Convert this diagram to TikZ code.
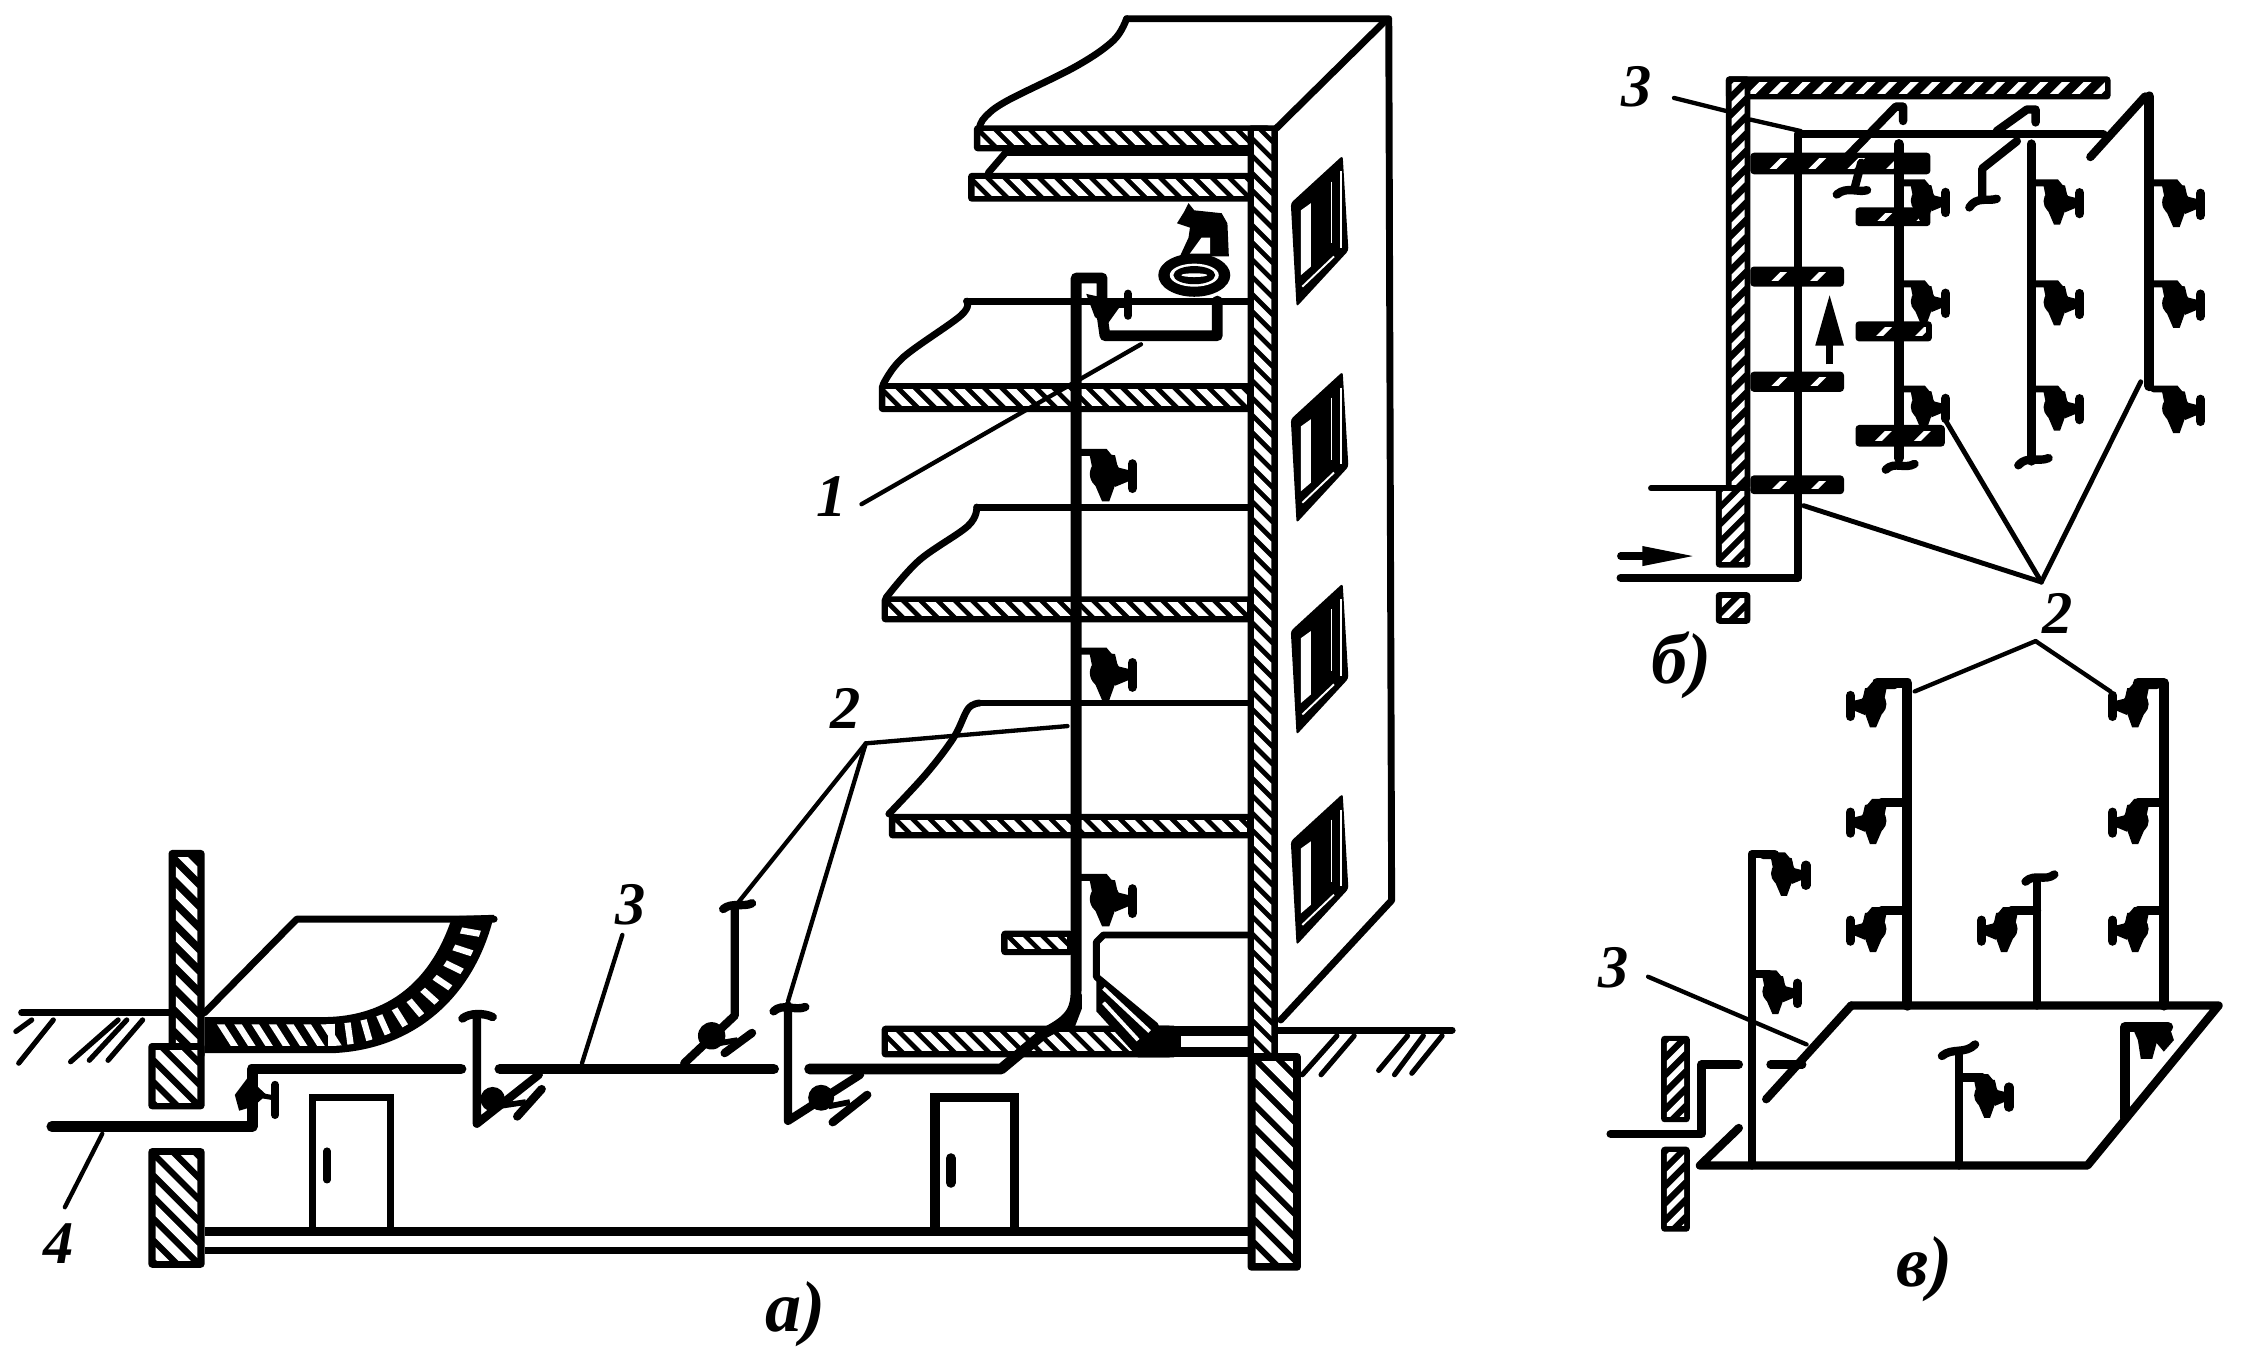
\documentclass[tikz,border=0pt]{standalone}
\usepackage{fontspec}
\newfontfamily\labfont{Liberation Serif}
\tikzset{
 heavy/.style={line width=4.8,line join=round,line cap=round},
 pipe/.style={line width=7.5,line join=round,line cap=round},
 pipeb/.style={line width=5.8,line join=round,line cap=round},
 leader/.style={line width=3,line cap=round},
 lbl/.style={font=\labfont\bfseries\itshape\fontsize{42}{42}\selectfont,inner sep=0pt},
 capt/.style={font=\labfont\bfseries\itshape\fontsize{50}{50}\selectfont,inner sep=0pt}
}
% x1 y1 x2 y2 spacing dir stripewidth border
\newcommand{\hatchrect}[8]{%
 \fill[black,rounded corners=2.5] (#1,#2) rectangle (#3,#4);
 \begin{scope}
 \clip (#1+#8,#2+#8) rectangle (#3-#8,#4-#8);
 \pgfmathsetmacro\hatchH{#4-#2}
 \pgfmathtruncatemacro\hatchN{(#3-#1+\hatchH)/#5}
 \foreach \k in {0,...,\hatchN}{
  \pgfmathsetmacro\hatchX{#1-\hatchH+\k*#5}
  \ifnum#6=1
   \draw[white,line width=#7] (\hatchX,#2) -- (\hatchX+\hatchH,#4);
  \else
   \draw[white,line width=#7] (\hatchX+\hatchH,#2) -- (\hatchX,#4);
  \fi
 }
 \end{scope}
}
\newcommand{\slabrect}[4]{\hatchrect{#1}{#2}{#3}{#4}{12}{1}{5}{4.5}}
\newcommand{\sparserect}[4]{\hatchrect{#1}{#2}{#3}{#4}{27}{0}{3.4}{4.2}}
% x y xsign scale
\newcommand{\vlv}[4]{%
 \begin{scope}[shift={(#1,#2)},xscale=#3*#4,yscale=#4]
  \draw[line width=4.8,line cap=round] (0,0) -- (17,0) -- (22,6);
  \fill[black] (17,15) circle (10.5);
  \fill[black] (9,20) -- (15,34) -- (20,34) -- (25,20) -- cycle;
  \fill[black] (6,0) -- (24,2) -- (27,15) -- (8,10) -- cycle;
  \fill[black] (24,10) -- (36,13) -- (36,19) -- (24,24) -- cycle;
  \draw[line width=6.5,line cap=round] (36,8) -- (36,25);
 \end{scope}
}
\newcommand{\winpane}[1]{%
 \begin{scope}[shift={(896,#1)}]
  \fill[black,rounded corners=2] (0,0) -- (36,-33) -- (40,33) -- (4,72) -- cycle;
  \fill[white] (7,5) -- (14,0) -- (14,44) -- (7,50) -- cycle;
  \draw[white,line width=1.6] (35,-22) -- (35,31);
  \draw[white,line width=1.3] (8,58) -- (30,37);
  \draw[white,line width=.8] (28,-15) -- (28,28);
 \end{scope}
}
\begin{document}
\begin{tikzpicture}[x=1pt,y=-1pt]
\useasboundingbox (0,0) rectangle (1566,947);
\fill[white] (0,0) rectangle (1566,947);

% ===== a) building =====
\draw[heavy] (782,13) -- (964,13) -- (966,625) -- (889,708);
\draw[heavy] (961,15) -- (886,89);
\draw[heavy] plot[smooth,tension=.6] coordinates {(782,13) (773,28) (747,46) (699,70) (684,81) (680,88)};
\draw[heavy] (698,106) -- (686,120);
\draw[heavy] (698,106) -- (868,106);
% plates
\draw[heavy] (866,209) -- (671,209);
\draw[heavy] plot[smooth,tension=.6] coordinates {(671,209) (667,219) (627,248) (613,267)};
\draw[heavy] (866,352) -- (678,352);
\draw[heavy] plot[smooth,tension=.6] coordinates {(678,352) (672,365) (638,389) (615,415)};
\draw[heavy] (866,488) -- (680,488);
\draw[heavy] plot[smooth,tension=.6] coordinates {(680,488) (672,492) (662,512) (643,537) (617,565)};
\draw[heavy] (866,649) -- (766,649) -- (761,654) -- (761,678) -- (802,712);
% slabs
\slabrect{676}{87}{882}{105}
\slabrect{672}{120}{874}{140}
\slabrect{610}{266}{870}{286}
\slabrect{612}{414}{870}{432}
\slabrect{617}{565}{870}{582}
\slabrect{695}{646}{745}{663}
\slabrect{612}{712}{814}{734}
\fill[black] (812,712) rectangle (870,734);
\fill[white] (820,719) rectangle (866,727);
\fill[black] (761,676) -- (802,712) -- (815,712) -- (815,734) -- (790,734) -- (761,702) -- cycle;
\draw[white,line width=2.6] (766,686) -- (798,716);
\draw[white,line width=2.6] (766,696) -- (790,722);
% walls
\hatchrect{866}{87}{887}{735}{12}{1}{5}{4.5}
\hatchrect{866}{731}{903}{882}{16}{1}{7}{5.5}
% windows
\winpane{141}
\winpane{291}
\winpane{438}
\winpane{584}
% ground
\draw[heavy] (887,715) -- (1008,715);
\draw[heavy] (15,703) -- (117,703);
\foreach \a/\b/\c/\d in {904/746/928/719,917/746/940/719,957/743/977/719,968/746/988/719,980/745/1001/719,
  11/716/22/708,13/738/37/708,49/737/82/708,62/736/88/708,75/736/99/708}
  {\draw[heavy,line width=3.6] (\a,\b) -- (\c,\d);}
% curved slab
\fill[black] (142,706) -- (224,706) .. controls (270,706) and (300,680) .. (314,636) -- (343,635) .. controls (330,690) and (290,728) .. (232,731) -- (142,731) -- cycle;
\begin{scope}
 \clip (148,711) -- (224,711) .. controls (275,711) and (307,685) .. (321,643) -- (335,642) .. controls (322,688) and (285,723) .. (232,726) -- (148,726) -- cycle;
 \foreach \a in {2,10,...,90}{\draw[white,line width=4.4] ({230+60*cos(\a)},{630+60*sin(\a)}) -- ({230+125*cos(\a)},{630+125*sin(\a)});}
 \foreach \a in {150,162,...,226}{\draw[white,line width=4.4] (\a,706) -- (\a+16,731);}
\end{scope}
\draw[heavy] (142,703) -- (206,638) -- (343,638);
% left walls
\hatchrect{117}{590}{142}{735}{15}{1}{5}{5}
\hatchrect{103}{724}{142}{770}{15}{1}{6}{5}
\hatchrect{103}{797}{142}{880}{15}{1}{6}{5}
% floor, doors
\draw[line width=6.5] (142,855) -- (866,855);
\draw[line width=5.5] (142,868) -- (866,868);
\draw[line width=5] (217,852) -- (217,762) -- (271,762) -- (271,852);
\draw[line width=5,line cap=round] (227,799) -- (227,819);
\draw[line width=6.5] (649,852) -- (649,762) -- (704,762) -- (704,852);
\draw[line width=7,line cap=round] (660,804) -- (660,821);

% pipes a)
\draw[pipe] (36,782) -- (175,782) -- (175,742) -- (320,742);
\draw[pipe] (347,742) -- (537,742);
\draw[pipe] (562,742) -- (695,742) -- (725,717) .. controls (745,707) and (747,700) .. (747,685) -- (747,193) -- (765,193) -- (765,208);
\draw[pipe] (764,212) -- (767,233) -- (845,233) -- (845,209);
% flare under riser
\fill[black] (751,690) -- (751,700) -- (746,713) -- (736,713) -- (745,695) -- cycle;
% valves on main riser
\vlv{750}{314}{1}{1}
\vlv{750}{452}{1}{1}
\vlv{750}{609}{1}{1}
\fill[black] (754,204) -- (772,208) -- (778,212) -- (768,226) -- (760,220) -- cycle;
\draw[line width=6,line cap=round] (783,204) -- (783,219);
\draw[line width=4] (768,212) -- (783,212);
% basin
\fill[black] (829,191) ellipse (25 and 15);
\fill[white] (829,191) ellipse (17 and 8);
\fill[black] (829,191) ellipse (14.5 and 6.3);
\fill[white] (829,191) ellipse (9 and 1.3);
\fill[black] (825,141) -- (829,146) -- (848,148) -- (852,155) -- (853,178) -- (819,178) -- (825,165) -- (826,158) -- (817,155) -- (822,147) -- cycle;
\fill[white] (826,176) -- (834,165) -- (840,165) -- (840,176) -- cycle;
% valve at inlet
\fill[black] (172,748) -- (163,760) -- (166,771) -- (176,768) -- (185,760) -- cycle;
\draw[line width=5.5,line cap=round] (191,753) -- (191,774);
\draw[line width=3.5] (178,760) -- (190,762);
% risers on the basement
\draw[pipeb] (331,706) -- (331,780) -- (374,746);
\draw[pipeb] (321,707) .. controls (326,703) and (336,703) .. (342,706);
\fill[black] (342,763) circle (8.5);
\draw[pipeb] (359,775) -- (376,756);
\draw[line width=4] (345,768) -- (365,765);
\draw[pipeb] (510,631) -- (510,705) -- (475,738);
\draw[pipeb] (502,631) .. controls (508,626) and (516,630) .. (522,627);
\fill[black] (494,719) circle (9.5);
\draw[pipeb] (503,731) -- (522,717);
\draw[line width=4] (500,724) -- (512,722);
\draw[pipeb] (547,698) -- (547,778) -- (597,746);
\draw[pipeb] (537,702) .. controls (543,696) and (552,702) .. (559,699);
\fill[black] (570,762) circle (9);
\draw[pipeb] (578,779) -- (602,760);
\draw[line width=4] (575,768) -- (590,765);
% leaders a)
\draw[leader] (598,350) -- (792,239);
\draw[leader] (741,504) -- (601,516) -- (512,627);
\draw[leader] (601,516) -- (547,695);
\draw[leader] (432,649) -- (404,738);
\draw[leader] (71,787) -- (45,838);

% ===== b) =====
\hatchrect{1198}{53}{1465}{69}{15}{0}{4}{4}
\hatchrect{1198}{53}{1215}{340}{12}{0}{3.6}{4}
\hatchrect{1191}{337}{1215}{394}{12}{0}{4.2}{4.2}
\hatchrect{1191}{411}{1215}{433}{12}{0}{4.2}{4.2}
\sparserect{1215}{106}{1340}{121}
\sparserect{1215}{185}{1280}{199}
\sparserect{1215}{258}{1280}{272}
\sparserect{1215}{330}{1280}{343}
\sparserect{1288}{144}{1340}{157}
\sparserect{1288}{223}{1341}{237}
\sparserect{1288}{295}{1350}{310}
\draw[leader,line width=4] (1146,339) -- (1198,339);
\draw[pipeb] (1125,401) -- (1248,401) -- (1248,93) -- (1460,93);
\draw[pipeb] (1451,109) -- (1489,67);
\draw[pipeb,line width=7] (1492,67) -- (1492,268);
\draw[pipeb] (1281,110) -- (1316,74) -- (1321,74) -- (1321,84);
\draw[pipeb] (1292,113) -- (1287,132);
\draw[pipeb] (1275,135) .. controls (1282,129) and (1290,134) .. (1296,132);
\draw[pipeb] (1386,91) -- (1407,76) -- (1413,76) -- (1413,85);
\draw[pipeb] (1400,98) -- (1376,117) -- (1376,137);
\draw[pipeb] (1367,144) .. controls (1372,136) and (1380,140) .. (1386,138);
\draw[pipeb,line width=7] (1318,100) -- (1318,318);
\draw[pipeb] (1309,326) .. controls (1315,320) and (1322,326) .. (1329,322);
\draw[pipeb,line width=6.5] (1410,100) -- (1410,320);
\draw[pipeb] (1401,323) .. controls (1407,316) and (1415,321) .. (1422,318);
\vlv{1321}{127}{1}{.82}
\vlv{1321}{197}{1}{.82}
\vlv{1321}{270}{1}{.82}
\vlv{1413}{127}{1}{.85}
\vlv{1413}{197}{1}{.85}
\vlv{1413}{270}{1}{.85}
\vlv{1495}{127}{1}{.9}
\vlv{1495}{197}{1}{.9}
\vlv{1495}{270}{1}{.9}
% arrows
\draw[line width=5] (1270,253) -- (1270,225);
\fill[black] (1270,205) -- (1280,240) -- (1260,240) -- cycle;
\draw[line width=5,line cap=round] (1125,386) -- (1145,386);
\fill[black] (1175,386) -- (1140,379) -- (1140,393) -- cycle;
% leaders b)
\draw[leader] (1162,68) -- (1198,77);
\draw[leader] (1215,83) -- (1250,91);
\draw[leader,line width=3.4] (1417,404) -- (1252,351);
\draw[leader,line width=3.4] (1417,404) -- (1350,291);
\draw[leader,line width=3.4] (1417,404) -- (1486,265);

% ===== c) =====
\hatchrect{1153}{719}{1173}{779}{12}{0}{3.8}{4}
\hatchrect{1153}{796}{1173}{855}{12}{0}{3.8}{4}
\draw[pipeb] (1118,787) -- (1181,787) -- (1181,739) -- (1207,739);
\draw[pipeb] (1285,698) -- (1540,698) -- (1449,809) -- (1180,809) -- (1207,783);
\draw[pipeb] (1285,698) -- (1226,763);
\draw[pipeb] (1229,739) -- (1251,739);
\draw[pipeb] (1216,809) -- (1216,593) -- (1232,593);
\draw[pipeb] (1218,676) -- (1228,676);
\draw[pipeb,line width=7] (1324,698) -- (1324,474) -- (1303,474);
\draw[pipeb] (1324,557) -- (1306,557);
\draw[pipeb] (1324,632) -- (1306,632);
\draw[pipeb] (1414,698) -- (1414,612);
\draw[pipeb] (1406,612) .. controls (1412,606) and (1420,612) .. (1426,607);
\draw[pipeb] (1414,632) -- (1396,632);
\draw[pipeb,line width=7] (1502,698) -- (1502,474) -- (1484,474);
\draw[pipeb] (1502,557) -- (1484,557);
\draw[pipeb] (1502,632) -- (1484,632);
\draw[pipeb] (1360,809) -- (1360,730);
\draw[pipeb] (1348,733) .. controls (1355,727) and (1364,732) .. (1371,725);
\draw[pipeb] (1360,748) -- (1376,748);
\draw[pipeb,line width=7] (1475,776) -- (1475,713) -- (1505,713);
\vlv{1315}{476}{-1}{.85}
\vlv{1315}{557}{-1}{.85}
\vlv{1315}{632}{-1}{.85}
\vlv{1406}{632}{-1}{.85}
\vlv{1497}{476}{-1}{.85}
\vlv{1497}{557}{-1}{.85}
\vlv{1497}{632}{-1}{.85}
\vlv{1224}{594}{1}{.82}
\vlv{1218}{676}{1}{.82}
\vlv{1365}{748}{1}{.82}
\fill[black] (1480,713) -- (1506,713) -- (1509,722) -- (1502,730) -- (1497,724) -- (1494,735) -- (1486,735) -- (1484,722) -- cycle;
% leaders c)
\draw[leader] (1144,678) -- (1254,725);
\draw[leader] (1413,445) -- (1329,480);
\draw[leader] (1413,445) -- (1465,480);

% labels
\node[lbl] (n1) at (577,345) {1};
\node[lbl] (n2a) at (587,492) {2};
\node[lbl] (n3a) at (438,628) {3};
\node[lbl] (n4) at (41,863) {4};
\node[capt] (na) at (552,912) {а)};
\node[lbl] (n3b) at (1136,60) {3};
\node[lbl] (n2b) at (1428,426) {2};
\node[capt] (nb) at (1167,462) {б)};
\node[lbl] (n3c) at (1120,672) {3};
\node[capt] (nc) at (1336,881) {в)};
\end{tikzpicture}
\end{document}
